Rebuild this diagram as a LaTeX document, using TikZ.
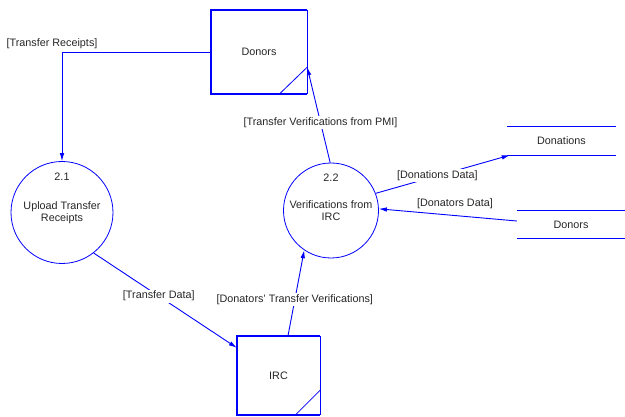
\documentclass[tikz,border=0pt]{standalone}
\usepackage{fontspec}
\setmainfont{Liberation Sans}
\usetikzlibrary{arrows.meta,calc}
\begin{document}
\begin{tikzpicture}[x=1pt,y=-1pt,
  every node/.style={font=\fontsize{10.8}{12}\selectfont, text=black!85},
  flow/.style={draw=blue, line width=0.9pt, -{Latex[length=8pt,width=4.6pt]}},
  process/.style={circle, draw=blue, line width=0.8pt, minimum size=#1, inner sep=0pt, align=center},
  entity/.style={rectangle, minimum width=96pt, minimum height=84pt, inner sep=0pt},
  store/.style={rectangle, minimum height=28pt, inner sep=0pt},
  edgetext/.style={fill=white, inner sep=1.5pt},
  heavy/.style={draw=blue, line width=1.8pt},
  light/.style={draw=blue, line width=0.8pt}
]
\useasboundingbox (0,0) rectangle (625,417);

% external entities
\node[entity] (donors) at (259,52) {Donors};
\draw[heavy] (donors.north east) -- (donors.north west) -- (donors.south west) -- (donors.south east);
\draw[light] (donors.north east) -- (donors.south east);
\draw[light] ($(donors.south east)+(-28,0)$) -- ($(donors.south east)+(0,-27)$);
\coordinate (donorsin) at ($(donors.south east)+(0,-27)$);

\node[entity, minimum width=83pt, minimum height=79pt] (irc) at (278.5,375.5) {IRC};
\draw[heavy] (irc.north east) -- (irc.north west) -- (irc.south west) -- (irc.south east);
\draw[light] (irc.north east) -- (irc.south east);
\draw[light] ($(irc.south east)+(-25,0)$) -- ($(irc.south east)+(0,-25)$);

% processes
\node[process=102pt] (p21) at (62,212.5) {Upload Transfer\\Receipts};
\node (n21) at (62,177) {2.1};
\node[process=95pt] (p22) at (331,210.5) {Verifications from\\IRC};
\node (n22) at (331,178) {2.2};

% data stores
\node[store, minimum width=109pt] (donations) at (561.5,141) {Donations};
\draw[light] (donations.north west) -- (donations.north east);
\draw[light] (donations.south west) -- (donations.south east);
\node[store, minimum width=108pt, minimum height=27pt] (donorstore) at (571,224.5) {Donors};
\draw[light] (donorstore.north west) -- (donorstore.north east);
\draw[light] (donorstore.south west) -- (donorstore.south east);

% data flows
\draw[flow] (donors.west) -| (p21.north);
\node (lblreceipts) at (52,44) {[Transfer Receipts]};

\draw[flow] (p21.308) -- ($(irc.north west)+(0,12)$)
  node[edgetext, pos=0.455] {[Transfer Data]};

\draw[flow] ($(irc.north)+(9.5,0)$) -- (p22.236)
  node[edgetext, pos=0.42] {[Donators' Transfer Verifications]};

\draw[flow] (p22.91) -- (donorsin)
  node[edgetext, pos=0.42] {[Transfer Verifications from PMI]};

\draw[flow] (p22.21) -- ($(donations.south west)+(3,0)$)
  node[edgetext, pos=0.46] {[Donations Data]};

\draw[flow] ($(donorstore.west)+(0,-3.5)$) -- (p22.2);
\node (lbldonators) at (455,204) {[Donators Data]};
\end{tikzpicture}
\end{document}
